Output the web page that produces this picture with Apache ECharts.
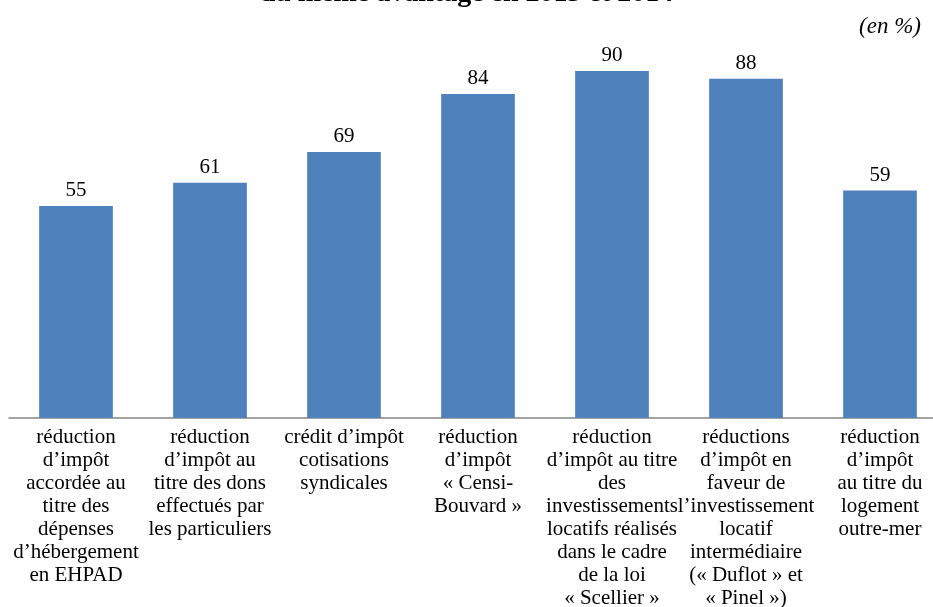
<!DOCTYPE html>
<html>
<head>
<meta charset="utf-8">
<script src="https://cdn.jsdelivr.net/npm/echarts@6/dist/echarts.min.js"></script>
<style>
html,body{margin:0;padding:0;background:#fff;}
#chart{width:933px;height:607px;}
</style>
</head>
<body>
<div id="chart"></div>
<script>
// Catégories (retours à la ligne comme dans la source)
const categories = [
  "réduction\nd’impôt\naccordée au\ntitre des\ndépenses\nd’hébergement\nen EHPAD",
  "réduction\nd’impôt au\ntitre des dons\neffectués par\nles particuliers",
  "crédit d’impôt\ncotisations\nsyndicales",
  "réduction\nd’impôt\n« Censi-\nBouvard »",
  "réduction\nd’impôt au titre\ndes\ninvestissements\nlocatifs réalisés\ndans le cadre\nde la loi\n« Scellier »",
  "réductions\nd’impôt en\nfaveur de\nl’investissement\nlocatif\nintermédiaire\n(« Duflot » et\n« Pinel »)",
  "réduction\nd’impôt\nau titre du\nlogement\noutre-mer"
];
const values = [55, 61, 69, 84, 90, 88, 59];
const titleText = "du même avantage en 2013 et 2014";
const unitText = "(en %)";

const serif = "'Liberation Serif', 'DejaVu Serif', serif";
const chart = echarts.init(document.getElementById('chart'));
chart.setOption({
  animation: false,
  title: {
    text: titleText,
    left: 'center',
    top: -25,
    textStyle: {fontFamily: serif, fontSize: 28, fontWeight: 'bold', color: '#000'}
  },
  graphic: [{
    type: 'text',
    right: 12,
    top: 15,
    style: {text: unitText, font: "italic 23px 'Liberation Serif', serif", fill: '#000'}
  }],
  grid: {left: 9, top: 32.4, width: 938, height: 385.6, outerBoundsMode: 'none', containLabel: false},
  xAxis: {
    type: 'category',
    data: categories,
    axisLine: {lineStyle: {color: '#868686', width: 1.5}},
    axisTick: {show: false},
    axisLabel: {
      interval: 0,
      fontFamily: serif,
      fontSize: 21,
      lineHeight: 23,
      color: '#000',
      margin: 8
    }
  },
  yAxis: {
    type: 'value',
    min: 0,
    max: 100,
    show: false
  },
  series: [{
    type: 'bar',
    data: values,
    barWidth: '55%',
    itemStyle: {color: '#4F81BD'},
    label: {
      show: true,
      position: 'top',
      distance: 5,
      fontFamily: serif,
      fontSize: 21,
      color: '#000'
    }
  }]
});
</script>
</body>
</html>
